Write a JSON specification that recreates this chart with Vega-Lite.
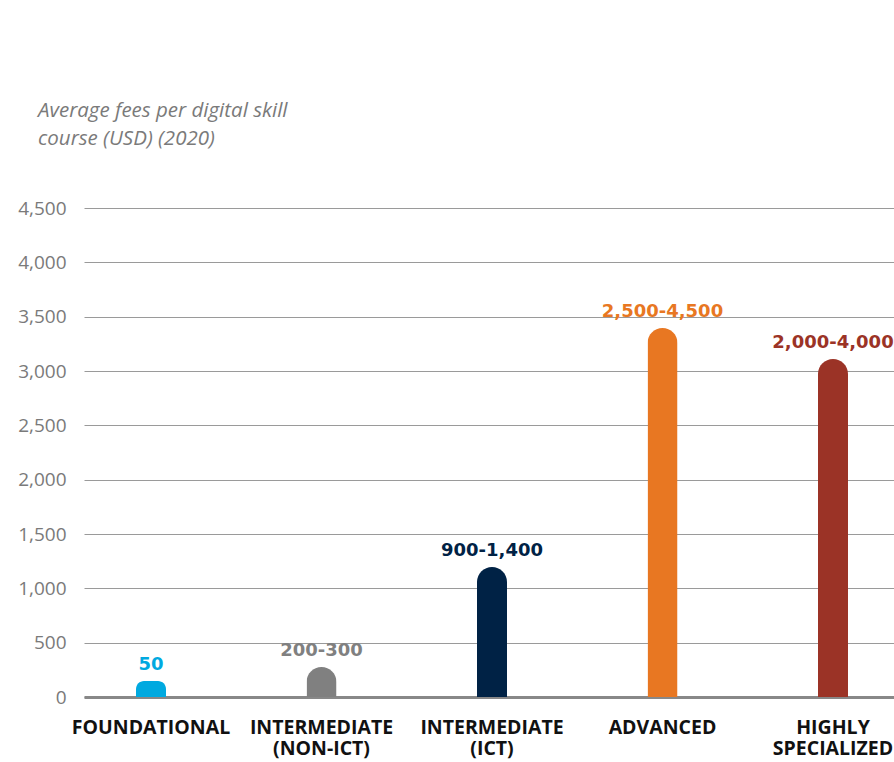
{
  "$schema": "https://vega.github.io/schema/vega-lite/v6.json",
  "autosize": {"type": "none"},
  "padding": {"left": 84, "top": 208, "right": 0, "bottom": 65},
  "width": 816,
  "height": 489,
  "background": "white",
  "title": {
    "text": ["Average fees per digital skill", "course (USD) (2020)"],
    "anchor": "start",
    "frame": "group",
    "dx": -46,
    "offset": 50,
    "font": "Open Sans",
    "fontSize": 20.5,
    "fontStyle": "italic",
    "fontWeight": "normal",
    "color": "#7a7a7a",
    "lineHeight": 28
  },
  "config": {
    "view": {"stroke": null},
    "font": "Open Sans"
  },
  "data": {
    "values": [
      {"category": "FOUNDATIONAL", "fee": 147, "label": "50", "color": "#00A9E0"},
      {"category": "INTERMEDIATE|(NON-ICT)", "fee": 276, "label": "200-300", "color": "#808080"},
      {"category": "INTERMEDIATE|(ICT)", "fee": 1196, "label": "900-1,400", "color": "#002245"},
      {"category": "ADVANCED", "fee": 3395, "label": "2,500-4,500", "color": "#E87722"},
      {"category": "HIGHLY|SPECIALIZED", "fee": 3110, "label": "2,000-4,000", "color": "#9B3326"}
    ]
  },
  "encoding": {
    "x": {
      "field": "category",
      "type": "nominal",
      "sort": null,
      "scale": {"paddingInner": 0.824, "paddingOuter": 0.305},
      "axis": {
        "title": null,
        "labelExpr": "split(datum.value, '|')",
        "labelAngle": 0,
        "labelFont": "Open Sans",
        "labelFontSize": 19.5,
        "labelFontWeight": "bold",
        "labelColor": "#111111",
        "labelBaseline": "top",
        "labelLineHeight": 21,
        "labelPadding": 21,
        "labelOverlap": false,
        "ticks": false,
        "domain": true,
        "domainColor": "#888888",
        "domainWidth": 3,
        "grid": false
      }
    },
    "y": {
      "field": "fee",
      "type": "quantitative",
      "scale": {"domain": [0, 4500], "nice": false},
      "axis": {
        "title": null,
        "values": [0, 500, 1000, 1500, 2000, 2500, 3000, 3500, 4000, 4500],
        "format": ",d",
        "labelFont": "Open Sans",
        "labelFontSize": 19,
        "labelColor": "#7a7a7a",
        "labelPadding": 18,
        "ticks": false,
        "domain": false,
        "grid": true,
        "gridColor": "#9a9a9a",
        "gridWidth": 1
      }
    },
    "color": {"field": "color", "type": "nominal", "scale": null, "legend": null}
  },
  "layer": [
    {
      "mark": {"type": "bar", "cornerRadiusTopLeft": 15, "cornerRadiusTopRight": 15}
    },
    {
      "mark": {"type": "text", "baseline": "alphabetic", "dy": -11, "fontSize": 18, "fontWeight": "bold", "font": "DejaVu Sans"},
      "encoding": {"text": {"field": "label"}}
    }
  ]
}
